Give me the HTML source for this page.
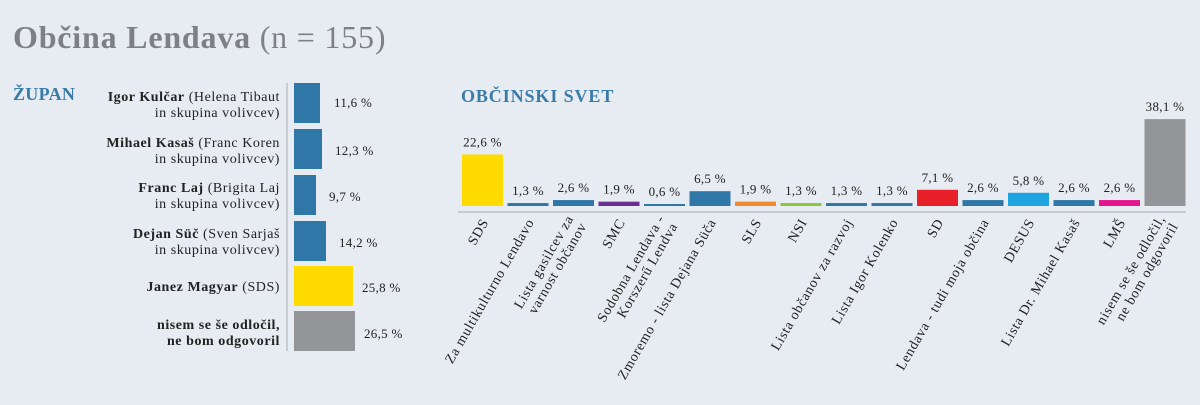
<!DOCTYPE html>
<html><head><meta charset="utf-8"><style>
html,body{margin:0;padding:0;background:#e7ebf2;}
svg{display:block;font-family:"Liberation Serif",serif;}
</style></head><body>
<svg width="1200" height="405" viewBox="0 0 1200 405" xmlns="http://www.w3.org/2000/svg">
<rect width="1200" height="405" fill="#e7ebf2"/>
<text x="13" y="48" font-size="32" font-weight="bold" fill="#7d8087" letter-spacing="0.8">Občina Lendava <tspan font-weight="normal">(n = 155)</tspan></text>

<text x="13" y="100" font-size="18" font-weight="bold" fill="#3a7ca8" letter-spacing="0.3">ŽUPAN</text>
<line x1="287" y1="83" x2="287" y2="351" stroke="#a8acb3" stroke-width="1"/>
<g font-size="14" fill="#222" text-anchor="end" letter-spacing="0.55">
<text x="280" y="101"><tspan font-weight="bold">Igor Kulčar</tspan> (Helena Tibaut</text>
<text x="280" y="117">in skupina volivcev)</text>
<text x="280" y="147"><tspan font-weight="bold">Mihael Kasaš</tspan> (Franc Koren</text>
<text x="280" y="163">in skupina volivcev)</text>
<text x="280" y="192"><tspan font-weight="bold">Franc Laj</tspan> (Brigita Laj</text>
<text x="280" y="208">in skupina volivcev)</text>
<text x="280" y="238"><tspan font-weight="bold">Dejan Süč</tspan> (Sven Sarjaš</text>
<text x="280" y="254">in skupina volivcev)</text>
<text x="280" y="291"><tspan font-weight="bold">Janez Magyar</tspan> (SDS)</text>
<text x="280" y="329" font-weight="bold">nisem se še odločil,</text>
<text x="280" y="345" font-weight="bold">ne bom odgovoril</text>
</g>
<rect x="294" y="83" width="26" height="40" fill="#2f77a6"/>
<rect x="294" y="129" width="28" height="40" fill="#2f77a6"/>
<rect x="294" y="175" width="22" height="40" fill="#2f77a6"/>
<rect x="294" y="221" width="32" height="40" fill="#2f77a6"/>
<rect x="294" y="266" width="59" height="40" fill="#ffdb00"/>
<rect x="294" y="311" width="61" height="40" fill="#949598"/>
<g font-size="13" fill="#222" letter-spacing="0.3">
<text x="334" y="107">11,6 %</text>
<text x="335" y="155">12,3 %</text>
<text x="329" y="201">9,7 %</text>
<text x="339" y="247">14,2 %</text>
<text x="362" y="292">25,8 %</text>
<text x="364" y="338">26,5 %</text>
</g>

<text x="461" y="102" font-size="18" font-weight="bold" fill="#3a7ca8" letter-spacing="0.9">OBČINSKI SVET</text>
<line x1="458" y1="212" x2="1186" y2="212" stroke="#a8acb3" stroke-width="1"/>
<g id="bars"></g>
<g font-size="13" fill="#222" text-anchor="middle" id="vals" letter-spacing="0.3"></g>
<g font-size="14" fill="#222" text-anchor="end" id="labs" letter-spacing="0.7"></g>
<script>
var d=[["SDS",22.6,"#ffdb00"],["Za multikulturno Lendavo",1.3,"#2f77a6"],["Lista gasilcev za|varnost občanov",2.6,"#2f77a6"],["SMC",1.9,"#6b2d8f"],["Sodobna Lendava -|Korszerű Lendva",0.6,"#2f77a6"],["Zmoremo - lista Dejana Süča",6.5,"#2f77a6"],["SLS",1.9,"#f08a2c"],["NSI",1.3,"#8cc63e"],["Lista občanov za razvoj",1.3,"#2f77a6"],["Lista Igor Kolenko",1.3,"#2f77a6"],["SD",7.1,"#e8202a"],["Lendava - tudi moja občina",2.6,"#2f77a6"],["DESUS",5.8,"#1ea5e0"],["Lista Dr. Mihael Kasaš",2.6,"#2f77a6"],["LMŠ",2.6,"#e5168c"],["nisem se še odločil,|ne bom odgovoril",38.1,"#949598"]];
var ns="http://www.w3.org/2000/svg",b=document.getElementById("bars"),v=document.getElementById("vals"),l=document.getElementById("labs");
d.forEach(function(e,i){var x=462+i*45.5,h=Math.max(2,e[1]*2.28),y=206-h;
var r=document.createElementNS(ns,"rect");r.setAttribute("x",x);r.setAttribute("y",y);r.setAttribute("width",41);r.setAttribute("height",h);r.setAttribute("fill",e[2]);b.appendChild(r);
var t=document.createElementNS(ns,"text");t.setAttribute("x",x+20.5);t.setAttribute("y",y-8);t.textContent=(e[1]+"").replace(".",",")+" %";v.appendChild(t);
var cx=x+27,cy=222,g=document.createElementNS(ns,"text");g.setAttribute("transform","translate("+cx+","+cy+") rotate(-60)");
var p=e[0].split("|");p.forEach(function(s,j){var ts=document.createElementNS(ns,"tspan");ts.setAttribute("x",0);ts.setAttribute("y",p.length==2?(j==0?-7:8):0);ts.textContent=s;g.appendChild(ts);});
l.appendChild(g);});
</script>
</svg>
</body></html>
